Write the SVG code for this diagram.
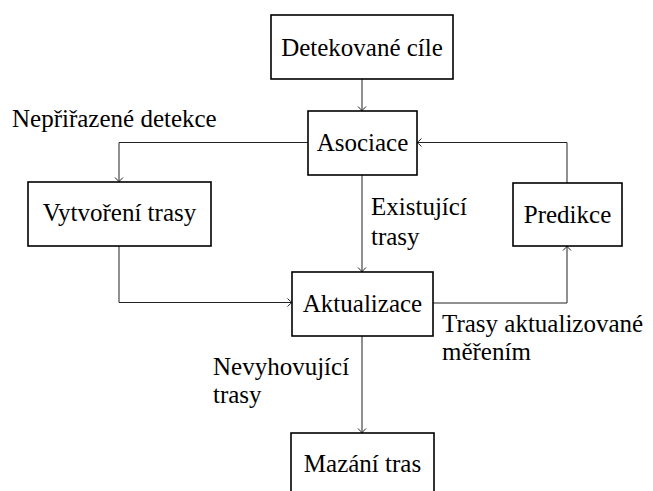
<svg xmlns="http://www.w3.org/2000/svg" width="653" height="491" viewBox="0 0 653 491">
<defs>
<marker id="ar" markerUnits="userSpaceOnUse" markerWidth="12" markerHeight="12" viewBox="-6 -6 12 12" refX="0" refY="0" orient="auto">
<path d="M-4.5,-4 Q-1.2,-0.6 0,0 Q-1.2,0.6 -4.5,4" fill="none" stroke="#222" stroke-width="1"/>
</marker>
</defs>
<rect width="653" height="491" fill="#fff"/>
<g id="connectors" fill="none" stroke="#222" stroke-width="1">
<path d="M362,79 V111" marker-end="url(#ar)"/>
<path d="M308,142.5 H119 V182" marker-end="url(#ar)"/>
<path d="M362,175 V272" marker-end="url(#ar)"/>
<path d="M119,246 V302.5 H292" marker-end="url(#ar)"/>
<path d="M433,303 H567 V246" marker-end="url(#ar)"/>
<path d="M567,183 V142.5 H417" marker-end="url(#ar)"/>
<path d="M362,336 V433" marker-end="url(#ar)"/>
</g>
<g id="labels">
<text x="12" y="127" style="font-family:'Liberation Serif',serif;font-size:25px">Nepřiřazené detekce</text>
<text x="371" y="215" style="font-family:'Liberation Serif',serif;font-size:25px">Existující</text>
<text x="371" y="245" style="font-family:'Liberation Serif',serif;font-size:25px">trasy</text>
<text x="442" y="332" style="font-family:'Liberation Serif',serif;font-size:25px">Trasy aktualizované</text>
<text x="442" y="360" style="font-family:'Liberation Serif',serif;font-size:25px">měřením</text>
<text x="213" y="375" style="font-family:'Liberation Serif',serif;font-size:25px">Nevyhovující</text>
<text x="213" y="403" style="font-family:'Liberation Serif',serif;font-size:25px">trasy</text>
</g>
<g id="n1"><rect x="271" y="15" width="182" height="64" fill="#fff" stroke="#000" stroke-width="1.6"/><text text-anchor="middle" x="362" y="56" style="font-family:'Liberation Serif',serif;font-size:25px">Detekované cíle</text></g>
<g id="n2"><rect x="308" y="111" width="109" height="64" fill="#fff" stroke="#000" stroke-width="1.6"/><text text-anchor="middle" x="362.5" y="151" style="font-family:'Liberation Serif',serif;font-size:25px">Asociace</text></g>
<g id="n3"><rect x="28" y="182" width="183" height="64" fill="#fff" stroke="#000" stroke-width="1.6"/><text text-anchor="middle" x="119.5" y="221" style="font-family:'Liberation Serif',serif;font-size:25px">Vytvoření trasy</text></g>
<g id="n4"><rect x="513" y="183" width="109" height="63" fill="#fff" stroke="#000" stroke-width="1.6"/><text text-anchor="middle" x="567.5" y="223" style="font-family:'Liberation Serif',serif;font-size:25px">Predikce</text></g>
<g id="n5"><rect x="292" y="272" width="141" height="64" fill="#fff" stroke="#000" stroke-width="1.6"/><text text-anchor="middle" x="362.5" y="312" style="font-family:'Liberation Serif',serif;font-size:25px">Aktualizace</text></g>
<g id="n6"><rect x="291" y="433" width="143" height="64" fill="#fff" stroke="#000" stroke-width="1.6"/><text text-anchor="middle" x="362.5" y="472" style="font-family:'Liberation Serif',serif;font-size:25px">Mazání tras</text></g>
</svg>
